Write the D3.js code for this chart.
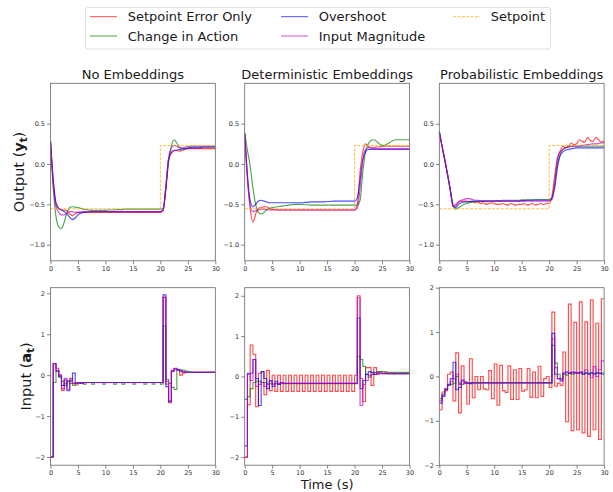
<!DOCTYPE html>
<html>
<head>
<meta charset="utf-8">
<script src="https://cdn.jsdelivr.net/npm/d3@7"></script>
<style>
  body { margin: 0; background: #fff; }
  svg { font-family: "DejaVu Sans", sans-serif; }
</style>
</head>
<body>
<svg id="chart" width="613" height="492"></svg>
<script>
// time grids (s): outputs sampled every 0.5 s, inputs held for 0.5 s
const outTimes = d3.range(0, 30.01, 0.5);
const stepTimes = d3.range(0, 30.01, 0.5);

const spTimes = [0, 20, 20, 30];
const spValues = [-0.555, -0.555, 0.23, 0.23];

const seriesNames = ["Setpoint Error Only", "Change in Action", "Overshoot", "Input Magnitude"];
const titles = ["No Embeddings", "Deterministic Embeddings", "Probabilistic Embeddings"];

// ---- outputs y_t ----
const outRedNo = [0.28,-0.20,-0.50,-0.55,-0.57,-0.57,-0.58,-0.62,-0.64,-0.62,
  -0.60,-0.60,-0.60,-0.60,-0.60,-0.60,-0.60,-0.60,-0.60,-0.60,
  -0.60,-0.60,-0.60,-0.60,-0.60,-0.60,-0.60,-0.60,-0.60,-0.60,
  -0.60,-0.60,-0.60,-0.60,-0.60,-0.60,-0.60,-0.60,-0.60,-0.60,
  -0.60,-0.58,-0.30,0.05,0.13,0.16,0.17,0.16,0.17,0.18,
  0.19,0.19,0.19,0.19,0.19,0.19,0.19,0.19,0.19,0.19,0.19];
const outGreenNo = [0.28,-0.30,-0.65,-0.78,-0.80,-0.72,-0.60,-0.54,-0.53,-0.535,
  -0.54,-0.55,-0.56,-0.565,-0.57,-0.575,-0.575,-0.575,-0.575,-0.575,
  -0.575,-0.57,-0.57,-0.57,-0.565,-0.565,-0.565,-0.56,-0.56,-0.56,
  -0.56,-0.56,-0.56,-0.56,-0.56,-0.56,-0.56,-0.56,-0.56,-0.56,
  -0.56,-0.55,-0.32,0.02,0.22,0.30,0.26,0.21,0.19,0.195,
  0.20,0.205,0.21,0.21,0.21,0.21,0.21,0.21,0.21,0.21,0.21];
const outBlueNo = [0.28,-0.20,-0.48,-0.55,-0.57,-0.59,-0.62,-0.66,-0.69,-0.67,
  -0.63,-0.61,-0.60,-0.595,-0.59,-0.59,-0.59,-0.59,-0.59,-0.59,
  -0.59,-0.59,-0.59,-0.59,-0.59,-0.59,-0.59,-0.59,-0.59,-0.59,
  -0.59,-0.59,-0.59,-0.59,-0.59,-0.59,-0.59,-0.59,-0.59,-0.59,
  -0.59,-0.57,-0.28,0.06,0.15,0.17,0.17,0.18,0.185,0.19,
  0.195,0.20,0.20,0.20,0.20,0.205,0.21,0.21,0.21,0.21,0.21];
const outMagNo = [0.28,-0.25,-0.53,-0.60,-0.63,-0.63,-0.61,-0.59,-0.59,-0.60,
  -0.60,-0.595,-0.59,-0.59,-0.59,-0.59,-0.59,-0.59,-0.59,-0.59,
  -0.59,-0.59,-0.59,-0.59,-0.59,-0.59,-0.59,-0.59,-0.59,-0.59,
  -0.59,-0.59,-0.59,-0.59,-0.59,-0.59,-0.59,-0.59,-0.59,-0.59,
  -0.59,-0.57,-0.28,0.08,0.20,0.23,0.22,0.20,0.20,0.21,
  0.215,0.22,0.22,0.22,0.22,0.22,0.22,0.22,0.22,0.22,0.22];

const outRedDet = [0.38,-0.15,-0.55,-0.72,-0.62,-0.55,-0.54,-0.53,-0.53,-0.55,
  -0.56,-0.565,-0.57,-0.57,-0.57,-0.57,-0.57,-0.57,-0.57,-0.57,
  -0.57,-0.57,-0.57,-0.57,-0.57,-0.57,-0.57,-0.57,-0.57,-0.57,
  -0.57,-0.57,-0.57,-0.57,-0.57,-0.57,-0.57,-0.57,-0.57,-0.57,
  -0.57,-0.50,-0.10,0.15,0.25,0.22,0.20,0.20,0.21,0.21,
  0.22,0.22,0.22,0.22,0.22,0.22,0.22,0.22,0.22,0.22,0.22];
const outGreenDet = [0.38,0.17,-0.03,-0.30,-0.50,-0.60,-0.62,-0.60,-0.57,-0.55,
  -0.54,-0.535,-0.53,-0.525,-0.52,-0.515,-0.51,-0.505,-0.50,-0.50,
  -0.50,-0.50,-0.505,-0.505,-0.51,-0.51,-0.51,-0.51,-0.51,-0.51,
  -0.51,-0.51,-0.51,-0.51,-0.51,-0.51,-0.51,-0.51,-0.51,-0.51,
  -0.51,-0.51,-0.45,-0.10,0.15,0.25,0.29,0.30,0.28,0.25,
  0.23,0.23,0.25,0.27,0.29,0.30,0.30,0.30,0.30,0.30,0.30];
const outBlueDet = [0.38,-0.15,-0.45,-0.53,-0.50,-0.46,-0.45,-0.46,-0.47,-0.48,
  -0.48,-0.48,-0.48,-0.48,-0.48,-0.48,-0.48,-0.48,-0.48,-0.48,
  -0.48,-0.48,-0.475,-0.475,-0.47,-0.47,-0.47,-0.47,-0.47,-0.47,
  -0.465,-0.465,-0.46,-0.46,-0.46,-0.46,-0.46,-0.46,-0.46,-0.46,
  -0.46,-0.42,-0.20,0.05,0.15,0.18,0.18,0.18,0.18,0.18,
  0.18,0.18,0.18,0.18,0.18,0.18,0.18,0.18,0.18,0.18,0.18];
const outMagDet = [0.38,-0.20,-0.52,-0.59,-0.58,-0.57,-0.56,-0.56,-0.565,-0.57,
  -0.57,-0.57,-0.57,-0.57,-0.57,-0.57,-0.57,-0.57,-0.57,-0.57,
  -0.57,-0.57,-0.57,-0.57,-0.57,-0.57,-0.57,-0.57,-0.57,-0.57,
  -0.57,-0.57,-0.57,-0.57,-0.57,-0.57,-0.57,-0.57,-0.57,-0.57,
  -0.57,-0.55,-0.30,0.05,0.18,0.20,0.20,0.19,0.19,0.19,
  0.19,0.19,0.19,0.19,0.19,0.19,0.19,0.19,0.19,0.19,0.19];

const outRedProb = [0.40,0.22,0.05,-0.13,-0.32,-0.53,-0.52,-0.47,-0.46,-0.46,
  -0.46,-0.47,-0.47,-0.48,-0.47,-0.49,-0.48,-0.50,-0.49,-0.48,
  -0.49,-0.50,-0.50,-0.49,-0.50,-0.51,-0.49,-0.50,-0.51,-0.50,
  -0.50,-0.49,-0.51,-0.50,-0.49,-0.51,-0.50,-0.49,-0.50,-0.49,
  -0.49,-0.40,-0.15,0.08,0.16,0.22,0.20,0.22,0.26,0.24,
  0.25,0.30,0.28,0.27,0.33,0.29,0.28,0.33,0.30,0.27,0.28];
const outGreenProb = [0.40,0.22,0.05,-0.13,-0.32,-0.50,-0.56,-0.54,-0.52,-0.50,
  -0.49,-0.48,-0.47,-0.47,-0.465,-0.465,-0.46,-0.46,-0.46,-0.46,
  -0.46,-0.455,-0.455,-0.45,-0.45,-0.45,-0.45,-0.45,-0.45,-0.45,
  -0.445,-0.445,-0.445,-0.445,-0.445,-0.44,-0.44,-0.44,-0.44,-0.44,
  -0.44,-0.42,-0.25,0.00,0.12,0.18,0.20,0.21,0.22,0.22,
  0.22,0.22,0.22,0.22,0.22,0.22,0.22,0.22,0.22,0.22,0.22];
const outBlueProb = [0.40,0.22,0.05,-0.13,-0.32,-0.52,-0.54,-0.50,-0.48,-0.47,
  -0.47,-0.465,-0.46,-0.46,-0.46,-0.46,-0.46,-0.46,-0.46,-0.46,
  -0.46,-0.46,-0.46,-0.46,-0.46,-0.46,-0.46,-0.46,-0.46,-0.46,
  -0.455,-0.455,-0.45,-0.45,-0.45,-0.45,-0.45,-0.45,-0.45,-0.45,
  -0.45,-0.43,-0.30,-0.05,0.10,0.15,0.17,0.18,0.19,0.195,
  0.20,0.20,0.20,0.20,0.20,0.20,0.20,0.20,0.20,0.20,0.20];
const outMagProb = [0.40,0.22,0.05,-0.13,-0.32,-0.52,-0.50,-0.47,-0.45,-0.44,
  -0.43,-0.43,-0.44,-0.45,-0.45,-0.455,-0.46,-0.46,-0.46,-0.46,
  -0.46,-0.46,-0.46,-0.46,-0.46,-0.46,-0.46,-0.46,-0.46,-0.46,
  -0.46,-0.46,-0.46,-0.46,-0.46,-0.46,-0.46,-0.46,-0.46,-0.46,
  -0.46,-0.44,-0.25,0.05,0.15,0.18,0.20,0.21,0.22,0.22,
  0.22,0.225,0.23,0.235,0.24,0.245,0.25,0.25,0.255,0.26,0.26];

// ---- inputs a_t (one value per 0.5 s step) ----
const inRedNo = [-2.00,0.28,0.17,0.00,-0.37,-0.20,-0.15,-0.08,-0.20,-0.24,
  -0.18,-0.20,-0.18,-0.18,-0.18,-0.18,-0.18,-0.18,-0.18,-0.18,
  -0.18,-0.18,-0.18,-0.18,-0.18,-0.18,-0.18,-0.18,-0.18,-0.18,
  -0.18,-0.18,-0.18,-0.18,-0.18,-0.18,-0.18,-0.18,-0.18,-0.18,
  -0.18,1.90,-0.22,-0.67,0.10,0.17,0.12,0.00,0.05,0.07,
  0.07,0.07,0.07,0.07,0.07,0.07,0.07,0.07,0.07,0.07];
const inGreenNo = [-2.00,-0.18,0.10,-0.05,-0.15,-0.25,-0.15,-0.20,-0.25,-0.18,
  -0.18,-0.18,-0.22,-0.18,-0.18,-0.22,-0.18,-0.18,-0.18,-0.22,
  -0.18,-0.18,-0.18,-0.22,-0.18,-0.18,-0.22,-0.18,-0.18,-0.18,
  -0.22,-0.18,-0.18,-0.18,-0.22,-0.18,-0.18,-0.22,-0.18,-0.18,
  -0.22,1.20,-0.10,-0.20,-0.30,-0.35,0.12,0.13,0.12,0.10,
  0.08,0.07,0.07,0.07,0.07,0.07,0.07,0.07,0.07,0.07];
const inBlueNo = [-2.00,0.28,0.10,-0.03,-0.25,-0.12,-0.38,-0.12,0.05,-0.20,
  -0.20,-0.19,-0.18,-0.18,-0.18,-0.18,-0.18,-0.18,-0.18,-0.18,
  -0.18,-0.18,-0.18,-0.18,-0.18,-0.18,-0.18,-0.18,-0.18,-0.18,
  -0.18,-0.18,-0.18,-0.18,-0.18,-0.18,-0.18,-0.18,-0.18,-0.18,
  -0.18,1.96,-0.28,-0.65,0.10,0.15,0.14,0.10,0.08,0.07,
  0.07,0.07,0.07,0.07,0.07,0.07,0.07,0.07,0.07,0.07];
const inMagNo = [-2.00,0.28,0.12,0.00,-0.33,-0.08,-0.35,-0.15,-0.20,-0.20,
  -0.18,-0.18,-0.18,-0.18,-0.18,-0.18,-0.18,-0.18,-0.18,-0.18,
  -0.18,-0.18,-0.18,-0.18,-0.18,-0.18,-0.18,-0.18,-0.18,-0.18,
  -0.18,-0.18,-0.18,-0.18,-0.18,-0.18,-0.18,-0.18,-0.18,-0.18,
  -0.18,1.90,-0.15,-0.62,0.12,0.15,0.12,0.10,0.08,0.07,
  0.07,0.07,0.07,0.07,0.07,0.07,0.07,0.07,0.07,0.07];

const inRedDet = [-2.00,-0.70,0.78,0.55,-0.75,0.08,0.12,-0.45,0.15,-0.35,
  0.03,-0.37,0.03,-0.37,0.03,-0.37,0.03,-0.37,0.03,-0.37,
  0.03,-0.37,0.03,-0.37,0.03,-0.37,0.03,-0.37,0.03,-0.37,
  0.03,-0.37,0.03,-0.37,0.03,-0.37,0.03,-0.37,0.03,-0.37,
  0.03,2.00,-0.05,-0.62,0.22,0.22,-0.22,0.22,0.05,0.12,
  0.08,0.10,0.07,0.08,0.06,0.08,0.07,0.08,0.07,0.08];
const inGreenDet = [-0.57,-0.50,-0.30,-0.15,-0.12,-0.12,-0.15,-0.15,-0.18,-0.18,
  -0.18,-0.18,-0.18,-0.18,-0.18,-0.18,-0.18,-0.18,-0.18,-0.18,
  -0.18,-0.18,-0.18,-0.18,-0.18,-0.18,-0.18,-0.18,-0.18,-0.18,
  -0.18,-0.18,-0.18,-0.18,-0.18,-0.18,-0.18,-0.18,-0.18,-0.18,
  -0.18,0.50,0.42,0.25,0.05,-0.02,0.05,0.10,0.12,0.12,
  0.12,0.11,0.10,0.10,0.10,0.10,0.10,0.10,0.10,0.10];
const inBlueDet = [-1.72,0.08,0.08,0.42,-0.05,-0.72,0.12,-0.05,-0.30,-0.10,
  -0.25,-0.12,-0.20,-0.15,-0.17,-0.17,-0.17,-0.17,-0.17,-0.17,
  -0.17,-0.17,-0.17,-0.17,-0.17,-0.17,-0.17,-0.17,-0.17,-0.17,
  -0.17,-0.17,-0.17,-0.17,-0.17,-0.17,-0.17,-0.17,-0.17,-0.17,
  -0.17,1.45,-0.30,-0.10,0.05,0.12,0.10,0.05,0.08,0.08,
  0.07,0.07,0.07,0.07,0.07,0.07,0.07,0.07,0.07,0.07];
const inMagDet = [-2.00,0.05,-0.10,0.42,-0.25,-0.20,-0.15,-0.25,-0.20,-0.12,
  -0.20,-0.17,-0.17,-0.17,-0.17,-0.17,-0.17,-0.17,-0.17,-0.17,
  -0.17,-0.17,-0.17,-0.17,-0.17,-0.17,-0.17,-0.17,-0.17,-0.17,
  -0.17,-0.17,-0.17,-0.17,-0.17,-0.17,-0.17,-0.17,-0.17,-0.17,
  -0.17,1.95,-0.72,-0.20,-0.10,0.02,0.05,0.05,0.10,0.08,
  0.07,0.07,0.07,0.07,0.07,0.07,0.07,0.07,0.07,0.07];

const inRedProb = [-0.75,-0.35,-0.32,0.05,0.10,-0.55,0.53,-0.82,0.24,-0.15,
  -0.62,0.40,-0.48,0.00,-0.30,0.00,-0.28,-0.30,0.13,-0.50,
  0.28,-0.65,0.25,-0.32,-0.36,0.24,-0.52,0.15,-0.52,0.18,
  -0.33,-0.30,0.18,-0.47,0.10,-0.48,0.23,-0.45,-0.05,0.00,
  -0.25,1.45,-0.22,-0.15,-0.20,0.55,-1.02,1.63,-1.22,1.22,
  -1.20,1.68,-1.27,1.23,-1.35,1.72,-1.20,1.20,-1.42,1.75];
const inGreenProb = [-0.50,-0.40,-0.28,-0.20,-0.18,-0.15,0.00,-0.15,-0.18,-0.15,
  -0.15,-0.15,-0.15,-0.15,-0.15,-0.15,-0.15,-0.15,-0.15,-0.15,
  -0.15,-0.15,-0.15,-0.15,-0.15,-0.15,-0.15,-0.15,-0.15,-0.15,
  -0.15,-0.15,-0.15,-0.15,-0.15,-0.15,-0.15,-0.15,-0.15,-0.15,
  -0.15,0.70,0.30,0.05,-0.05,0.05,0.03,0.08,0.05,0.08,
  0.07,0.08,0.06,0.08,0.07,0.08,0.07,0.08,0.07,0.08];
const inBlueProb = [-0.60,-0.45,-0.30,-0.18,-0.05,0.32,-0.30,-0.25,-0.08,-0.12,
  -0.15,-0.16,-0.14,-0.14,-0.14,-0.14,-0.14,-0.14,-0.14,-0.14,
  -0.14,-0.14,-0.14,-0.14,-0.14,-0.14,-0.14,-0.14,-0.14,-0.14,
  -0.14,-0.14,-0.14,-0.14,-0.14,-0.14,-0.14,-0.14,-0.14,-0.14,
  -0.14,0.97,0.05,-0.05,-0.10,0.08,0.10,0.07,0.10,0.08,
  0.08,0.10,0.05,0.07,0.05,0.08,0.05,0.08,0.07,0.05];
const inMagProb = [-0.55,-0.42,-0.28,-0.20,-0.12,-0.05,0.05,-0.18,-0.10,-0.15,
  -0.14,-0.14,-0.14,-0.14,-0.14,-0.14,-0.14,-0.14,-0.14,-0.14,
  -0.14,-0.14,-0.14,-0.14,-0.14,-0.14,-0.14,-0.14,-0.14,-0.14,
  -0.14,-0.14,-0.14,-0.14,-0.14,-0.14,-0.14,-0.14,-0.14,-0.14,
  -0.14,0.85,0.20,-0.05,-0.08,0.05,0.10,0.08,0.08,0.10,
  0.07,0.08,0.10,0.15,0.05,-0.03,0.22,0.00,0.15,0.35];

const colors = ["#ff0000", "#008000", "#0000ff", "#bf00bf"];
const setpointColor = "#ffa500";

const svg = d3.select("#chart");

var colX = [50.5, 244.7, 439.3],
  panelW = 164.8;
var rowY = [83.3, 287.7],
  panelH = 177.5;

var outputs = [
  [outRedNo, outGreenNo, outBlueNo, outMagNo],
  [outRedDet, outGreenDet, outBlueDet, outMagDet],
  [outRedProb, outGreenProb, outBlueProb, outMagProb]
];
var inputs = [
  [inRedNo, inGreenNo, inBlueNo, inMagNo],
  [inRedDet, inGreenDet, inBlueDet, inMagDet],
  [inRedProb, inGreenProb, inBlueProb, inMagProb]
];
var inDomains = [[-2.2, 2.137], [-2.2, 2.2], [-2, 2]];

function makePanel(col, row, yDomain, yTicks, yFmt) {
  var g = svg
    .append("g")
    .attr("transform", "translate(" + colX[col] + "," + rowY[row] + ")");
  var x = d3.scaleLinear().domain([0, 30]).range([0, panelW]);
  var y = d3.scaleLinear().domain(yDomain).range([panelH, 0]);
  var id = "clip" + row + col;
  g.append("clipPath")
    .attr("id", id)
    .append("rect")
    .attr("width", panelW)
    .attr("height", panelH);

  var xAxis = d3.axisBottom(x).tickValues([0, 5, 10, 15, 20, 25, 30])
    .tickSize(3.5).tickPadding(2).tickSizeOuter(0).tickFormat(d3.format("d"));
  var yAxis = d3.axisLeft(y).tickValues(yTicks)
    .tickSize(3.5).tickPadding(2).tickSizeOuter(0).tickFormat(yFmt);

  g.append("g").attr("class", "x axis")
    .attr("transform", "translate(0," + panelH + ")")
    .call(xAxis);
  g.append("g").attr("class", "y axis").call(yAxis);
  g.selectAll(".axis .domain").remove();
  g.selectAll(".axis line").style("stroke", "#666").style("stroke-width", 0.8);
  g.selectAll(".axis text").style("font-size", "6.5px").style("fill", "#333")
    .style("font-family", "DejaVu Sans");

  var plot = g.append("g").attr("clip-path", "url(#" + id + ")");
  return { g: g, x: x, y: y, plot: plot };
}

// top row: outputs
titles.forEach(function(title, col) {
  var p = makePanel(col, 0, [-1.2, 1.0], [-1, -0.5, 0, 0.5], d3.format(".1f"));
  var line = d3.line()
    .x(function(d, i) { return p.x(outTimes[i]); })
    .y(function(d) { return p.y(d); })
    .curve(d3.curveMonotoneX);
  outputs[col].forEach(function(vals, s) {
    p.plot.append("path")
      .datum(vals)
      .attr("d", line)
      .attr("fill", "none")
      .attr("stroke", colors[s])
      .attr("stroke-opacity", 0.7)
      .attr("stroke-width", 1.15);
  });
  var spLine = d3.line()
    .x(function(d, i) { return p.x(spTimes[i]); })
    .y(function(d) { return p.y(d); });
  p.plot.append("path")
    .datum(spValues)
    .attr("d", spLine)
    .attr("fill", "none")
    .attr("stroke", setpointColor)
    .attr("stroke-opacity", 0.8)
    .attr("stroke-width", 0.9)
    .attr("stroke-dasharray", "3,1.4");

  p.g.append("rect")
    .attr("width", panelW).attr("height", panelH)
    .attr("fill", "none").attr("stroke", "#666").attr("stroke-width", 0.8);

  p.g.append("text")
    .attr("x", panelW / 2)
    .attr("y", -4.5)
    .attr("text-anchor", "middle")
    .style("font-size", "13px")
    .style("fill", "#1a1a1a")
    .text(title);
});

// bottom row: inputs (step plots)
inputs.forEach(function(group, col) {
  var p = makePanel(col, 1, inDomains[col], [-2, -1, 0, 1, 2], d3.format("d"));
  var line = d3.line()
    .x(function(d, i) { return p.x(stepTimes[i]); })
    .y(function(d) { return p.y(d); })
    .curve(d3.curveStepAfter);
  group.forEach(function(vals, s) {
    p.plot.append("path")
      .datum(vals.concat([vals[vals.length - 1]]))
      .attr("d", line)
      .attr("fill", "none")
      .attr("stroke", colors[s])
      .attr("stroke-opacity", 0.7)
      .attr("stroke-width", 1.15);
  });
  p.g.append("rect")
    .attr("width", panelW).attr("height", panelH)
    .attr("fill", "none").attr("stroke", "#666").attr("stroke-width", 0.8);
});

// axis labels
function mathLabel(x, y, word, sym) {
  var t = svg.append("text")
    .attr("transform", "translate(" + x + "," + y + ") rotate(-90)")
    .attr("text-anchor", "middle")
    .style("font-size", "14.5px")
    .style("fill", "#1a1a1a");
  t.append("tspan").text(word + " (");
  t.append("tspan").style("font-weight", "bold").text(sym);
  t.append("tspan").style("font-weight", "bold").style("font-size", "10px")
    .attr("dy", 3).text("t");
  t.append("tspan").attr("dy", -3).text(")");
}
mathLabel(24, rowY[0] + panelH / 2, "Output", "y");
mathLabel(31, rowY[1] + panelH / 2, "Input", "a");

svg.append("text")
  .attr("x", colX[1] + panelW / 2)
  .attr("y", 489)
  .attr("text-anchor", "middle")
  .style("font-size", "13px")
  .style("fill", "#1a1a1a")
  .text("Time (s)");

// legend
var legend = svg.append("g");
legend.append("rect")
  .attr("x", 85.5).attr("y", 7.5)
  .attr("width", 465).attr("height", 41.5)
  .attr("rx", 2.5)
  .attr("fill", "#fff")
  .attr("stroke", "#d6d6d6")
  .attr("stroke-width", 0.8);

var legendItems = [
  { label: seriesNames[0], color: colors[0], x: 90, y: 16.7 },
  { label: seriesNames[1], color: colors[1], x: 90, y: 36 },
  { label: seriesNames[2], color: colors[2], x: 281, y: 16.7 },
  { label: seriesNames[3], color: colors[3], x: 281, y: 36 },
  { label: "Setpoint", color: setpointColor, x: 453, y: 16.7, dash: true }
];
legendItems.forEach(function(d) {
  legend.append("line")
    .attr("x1", d.x).attr("x2", d.x + 27)
    .attr("y1", d.y).attr("y2", d.y)
    .attr("stroke", d.color)
    .attr("stroke-opacity", 0.7)
    .attr("stroke-width", 1)
    .attr("stroke-dasharray", d.dash ? "3,1.4" : null);
  legend.append("text")
    .attr("x", d.x + 37.7)
    .attr("y", d.y + 4.6)
    .style("font-size", "13px")
    .style("fill", "#1a1a1a")
    .text(d.label);
});
</script>
</body>
</html>
